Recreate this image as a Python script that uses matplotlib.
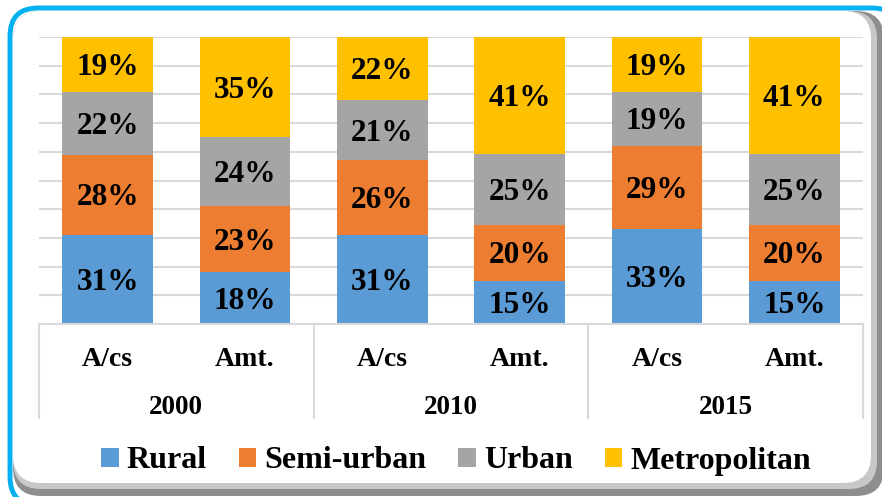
import matplotlib.pyplot as plt
import numpy as np
from matplotlib.patches import FancyBboxPatch
from matplotlib.transforms import IdentityTransform, blended_transform_factory

# datos (porcentajes)
subcats = ['A/cs', 'Amt.', 'A/cs', 'Amt.', 'A/cs', 'Amt.']
years = ['2000', '2010', '2015']
rural = [31, 18, 31, 15, 33, 15]
semi = [28, 23, 26, 20, 29, 20]
urban = [22, 24, 21, 25, 19, 25]
metro = [19, 35, 22, 41, 19, 41]
names = ['Rural', 'Semi-urban', 'Urban', 'Metropolitan']
colors = ['#5B9BD5', '#ED7D31', '#A5A5A5', '#FFC000']

plt.rcParams['font.family'] = ['Liberation Serif', 'DejaVu Serif']
plt.rcParams['font.weight'] = 'bold'

W, H = 882, 497
fig = plt.figure(figsize=(W/100, H/100), dpi=100)

# marco redondeado con sombra (coordenadas en pixeles)
def caja(x0, y0, x1, y1, **kw):
    p = FancyBboxPatch((x0, H - y1), x1 - x0, y1 - y0,
                       boxstyle='round,pad=0,rounding_size=28',
                       transform=IdentityTransform(), **kw)
    fig.add_artist(p)

caja(10, 8, 900, 505, facecolor='white', edgecolor='#00B0F0', lw=3.5, zorder=0)
caja(13, 11, 884, 496, facecolor='#8E8E8E', edgecolor='none', zorder=0)
caja(13, 11, 877, 489, facecolor='#C8C8C8', edgecolor='none', zorder=0)
caja(13, 11, 871, 483, facecolor='white', edgecolor='none', zorder=0)

ax = fig.add_axes([39/W, 1 - 324/H, (863 - 39)/W, (324 - 37)/H])
ax.patch.set_alpha(0)

datos = np.array([rural, semi, urban, metro], dtype=float)
pct = datos / datos.sum(axis=0) * 100
x = np.arange(len(subcats))
base = np.zeros(len(subcats))
for i in range(4):
    ax.bar(x, pct[i], 0.66, bottom=base, color=colors[i], label=names[i], zorder=2)
    for j in range(len(x)):
        ax.annotate('%d%%' % datos[i][j], (x[j], base[j] + pct[i][j]/2),
                    xytext=(0, -3), textcoords='offset pixels', ha='center', va='center',
                    fontsize=22.5, fontweight='bold', zorder=3)
    base += pct[i]

ax.set_xlim(-0.5, 5.5)
ax.set_ylim(0, 100)
ax.set_yticks(np.arange(0, 101, 10))
ax.yaxis.grid(True, color='#D9D9D9', lw=1.5, zorder=0)
ax.tick_params(left=False, labelleft=False, bottom=False, labelbottom=False)
for s in ['top', 'right', 'left']:
    ax.spines[s].set_visible(False)
ax.spines['bottom'].set_color('#D9D9D9')
ax.spines['bottom'].set_linewidth(1.5)
ax.spines['bottom'].set_zorder(4)

# eje de categorias en dos niveles
tr = blended_transform_factory(ax.transData, ax.transAxes)
for j in range(len(x)):
    ax.text(x[j], -36/287, subcats[j], transform=tr, ha='center', va='center',
            fontsize=20, fontweight='bold')
for k in range(len(years)):
    ax.text(2*k + 0.5, -83/287, years[k], transform=tr, ha='center', va='center',
            fontsize=19.5, fontweight='bold')
for xs in [-0.5, 1.5, 3.5, 5.5]:
    ax.plot([xs, xs], [0, -94/287], transform=tr, color='#D9D9D9', lw=1.5, clip_on=False)

fig.legend(loc='center', bbox_to_anchor=(456/W, 1 - 461/H), ncol=4, frameon=False,
           handlelength=0.55, handleheight=0.55, handletextpad=0.25,
           columnspacing=1.0, prop={'weight': 'bold', 'size': 23})

fig.savefig('out.png', dpi=100)
